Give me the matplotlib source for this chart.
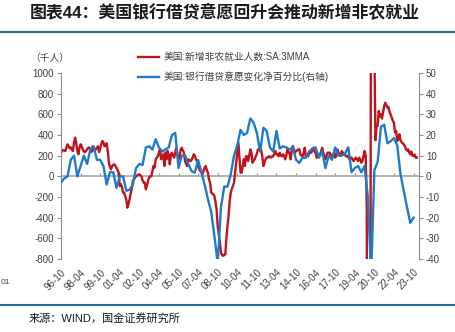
import matplotlib
matplotlib.use('Agg')
import numpy as np
import matplotlib.pyplot as plt
from matplotlib.lines import Line2D

plt.rcParams['font.family'] = ['Liberation Sans', 'Noto Sans CJK SC']
plt.rcParams['axes.unicode_minus'] = False

# x tick labels, one every 18 months starting 1996-10
tick_labels = ['96-10', '98-04', '99-10', '01-04', '02-10', '04-04', '05-10',
               '07-04', '08-10', '10-04', '11-10', '13-04', '14-10', '16-04',
               '17-10', '19-04', '20-10', '22-04', '23-10']

# nonfarm payrolls change, SA, 3MMA (thousands), monthly from 1996-10
payrolls = [
    229, 245, 255,
    250, 245, 280, 310, 290, 271, 280, 260, 245, 330, 374, 320,         # 1997
    245, 213, 280, 310, 290, 261, 240, 235, 245, 260, 277, 277,         # 1998
    260, 235, 290, 260, 245, 260, 277, 290, 235, 270, 310, 342,         # 1999
    330, 290, 300, 320, 245, 132, 90, 68, 100, 110, 116, 100,           # 2000
    84, 60, 36, -94, -77, -100, -158, -158, -190, -223, -303, -270,     # 2001
    -223, -170, -126, -45, -30, -13, 0, 10, 16, 19, 10, 0,              # 2002
    -40, -61, -61, -126, -90, -45, -10, 0, 0, 50, 100, 84,              # 2003
    165, 180, 194, 230, 261, 165, 190, 213, 100, 229, 165, 245,         # 2004
    200, 116, 213, 229, 200, 181, 230, 277, 213, 165, 190, 261,         # 2005
    277, 250, 229, 148, 120, 100, 165, 150, 148, 160, 181, 213,         # 2006
    200, 165, 148, 100, 68, 50, 36, 19, 50, 84, 100, 60,                # 2007
    36, -30, -61, -158, -165, -174, -190, -250, -320, -481, -560, -642, # 2008
    -739, -760, -771, -760, -755, -600, -481, -384, -240, -158, -120, -94,  # 2009
    -61, 40, 132, 229, 326, 180, 36, 36, 100, 165, 100, 194,            # 2010
    194, 148, 200, 261, 229, 132, 150, 165, 194, 220, 261, 261,         # 2011
    277, 250, 194, 100, 130, 165, 181, 181, 194, 190, 181, 194,         # 2012
    194, 220, 245, 213, 213, 194, 229, 200, 194, 213, 200, 165,         # 2013
    200, 261, 229, 229, 165, 245, 293, 260, 229, 245, 250, 261,         # 2014
    261, 213, 200, 194, 230, 277, 194, 200, 194, 220, 245, 229,         # 2015
    261, 277, 240, 229, 180, 197, 200, 213, 240, 277, 230, 194,         # 2016
    165, 200, 229, 229, 229, 194, 200, 210, 229, 181, 200, 261,         # 2017
    230, 213, 200, 245, 230, 213, 213, 194, 190, 200, 165, 181,         # 2018
    181, 160, 148, 170, 181, 165, 148, 181, 160, 132, 150, 194,         # 2019
    245, 200, -300, -7000, -6000, -4000, 3000, 2900, 1800, 1200, 350, 480,  # 2020
    490, 632, 580, 600, 560, 620, 680, 713, 690, 665, 670, 620,         # 2021
    600, 568, 536, 520, 423, 440, 342, 360, 407, 350, 330, 320,         # 2022
    310, 293, 261, 250, 261, 230, 213, 240, 200, 197, 210, 181,         # 2023
    181,
]

# bank willingness to lend, net percentage (right axis), quarterly from 1996-10
lending = [
    -3, -1, 0, 8, 10, 0, 5, 10, 6, 13,
    14.5, 8, 8, 5, -4, 2, 2, -5.5, 0, 0,
    -7, -6.5, -4, 4, 6, 5.5, 14, 14.5, 13, 18,
    14, 12, 13, 14, 20, 21, 4, 10, 10, 6,
    2.5, 1.8, 8, 2, -4, -11, -17, -29, -42, -15,
    -5, -5, 1, 10, 15, 22.5, 20, 21, 28, 26,
    21, 12, 23.5, 22, 14, 12, 22, 13.5, 14.5, 14,
    13, 14, 8, 6.5, 9, 9, 12, 13.5, 14, 9,
    12, 4, 10, 8, 14, 10, 10, 11, 14, 2,
    4, 5, 2, 5, -10, -48, 3, 7, 24, 25,
    16, 17, 18.5, 15, 1, -7, -15, -22.5, -20,
]

red = '#C0141C'
blue = '#1F7BC8'
grey = '#8C8C8C'
txt = '#404040'

months = np.arange(len(payrolls))
quarters = np.arange(len(lending)) * 3
tick_pos = np.arange(len(tick_labels)) * 18

fig = plt.figure(figsize=(4.55, 3.32), dpi=100)
ax = fig.add_axes([61 / 455, 1 - 259 / 332, 358 / 455, 186 / 332])
ax2 = ax.twinx()

ax.axhline(0, color='#A6A6A6', lw=1.2, zorder=1)
l1, = ax.plot(months, payrolls, color=red, lw=1.7, zorder=2)
l2, = ax2.plot(quarters, lending, color=blue, lw=1.7, zorder=2)

ax.set_xlim(0, 329)
ax.set_ylim(-800, 1000)
ax2.set_ylim(-40, 50)
ax.set_yticks(np.arange(-800, 1001, 200))
ax2.set_yticks(np.arange(-40, 51, 10))

ax.set_xticks(tick_pos)
ax.set_xticklabels(tick_labels, rotation=45, ha='right', rotation_mode='anchor')
ax.tick_params(axis='x', length=0, pad=6, labelsize=7, labelcolor=txt)
ax.tick_params(axis='y', length=3, width=0.8, color=grey, labelsize=7,
               labelcolor=txt, pad=2)
ax2.tick_params(axis='y', length=3, width=0.8, color=grey, labelsize=7,
                labelcolor=txt, pad=2)

for s in ['top', 'bottom', 'right']:
    ax.spines[s].set_visible(False)
for s in ['top', 'bottom', 'left']:
    ax2.spines[s].set_visible(False)
ax.spines['left'].set_color(grey)
ax2.spines['right'].set_color(grey)

# small tick marks sitting on the zero line
zero_axis = ax.secondary_xaxis(800 / 1800)
zero_axis.set_xticks(tick_pos)
zero_axis.tick_params(direction='in', length=2.5, width=0.8, color=grey,
                      labelbottom=False, labeltop=False)
zero_axis.spines['bottom'].set_visible(False)
zero_axis.spines['top'].set_visible(False)

fig.legend([l1, l2], ['美国:新增非农就业人数:SA:3MMA', '美国:银行借贷意愿变化净百分比(右轴)'],
           loc='upper left', bbox_to_anchor=(138 / 455, 1 - 52 / 332),
           frameon=False, fontsize=7, handlelength=2.2, labelspacing=1.0,
           handletextpad=0.4, borderaxespad=0, borderpad=0, labelcolor=txt)

fig.text(50 / 455, 1 - 58 / 332, '（千人）', fontsize=7, color=txt,
         ha='center', va='center')

fig.text(30 / 455, 1 - 12 / 332, '图表44：美国银行借贷意愿回升会推动新增非农就业',
         fontsize=12.2, fontweight='bold', ha='left', va='center', color='#1A1A1A')
fig.add_artist(Line2D([0, 1], [1 - 32 / 332] * 2, transform=fig.transFigure,
                      color='#2F6B9A', lw=1.5))
fig.add_artist(Line2D([0, 1], [1 - 305 / 332] * 2, transform=fig.transFigure,
                      color='#2F6B9A', lw=1.5))
fig.text(29 / 455, 1 - 318 / 332, '来源：WIND，国金证券研究所', fontsize=8,
         ha='left', va='center', color='#1A1A1A')
fig.text(1 / 455, 1 - 283 / 332, '01', fontsize=6, ha='left', va='center',
         color=txt)

fig.savefig('out.png', dpi=100)
